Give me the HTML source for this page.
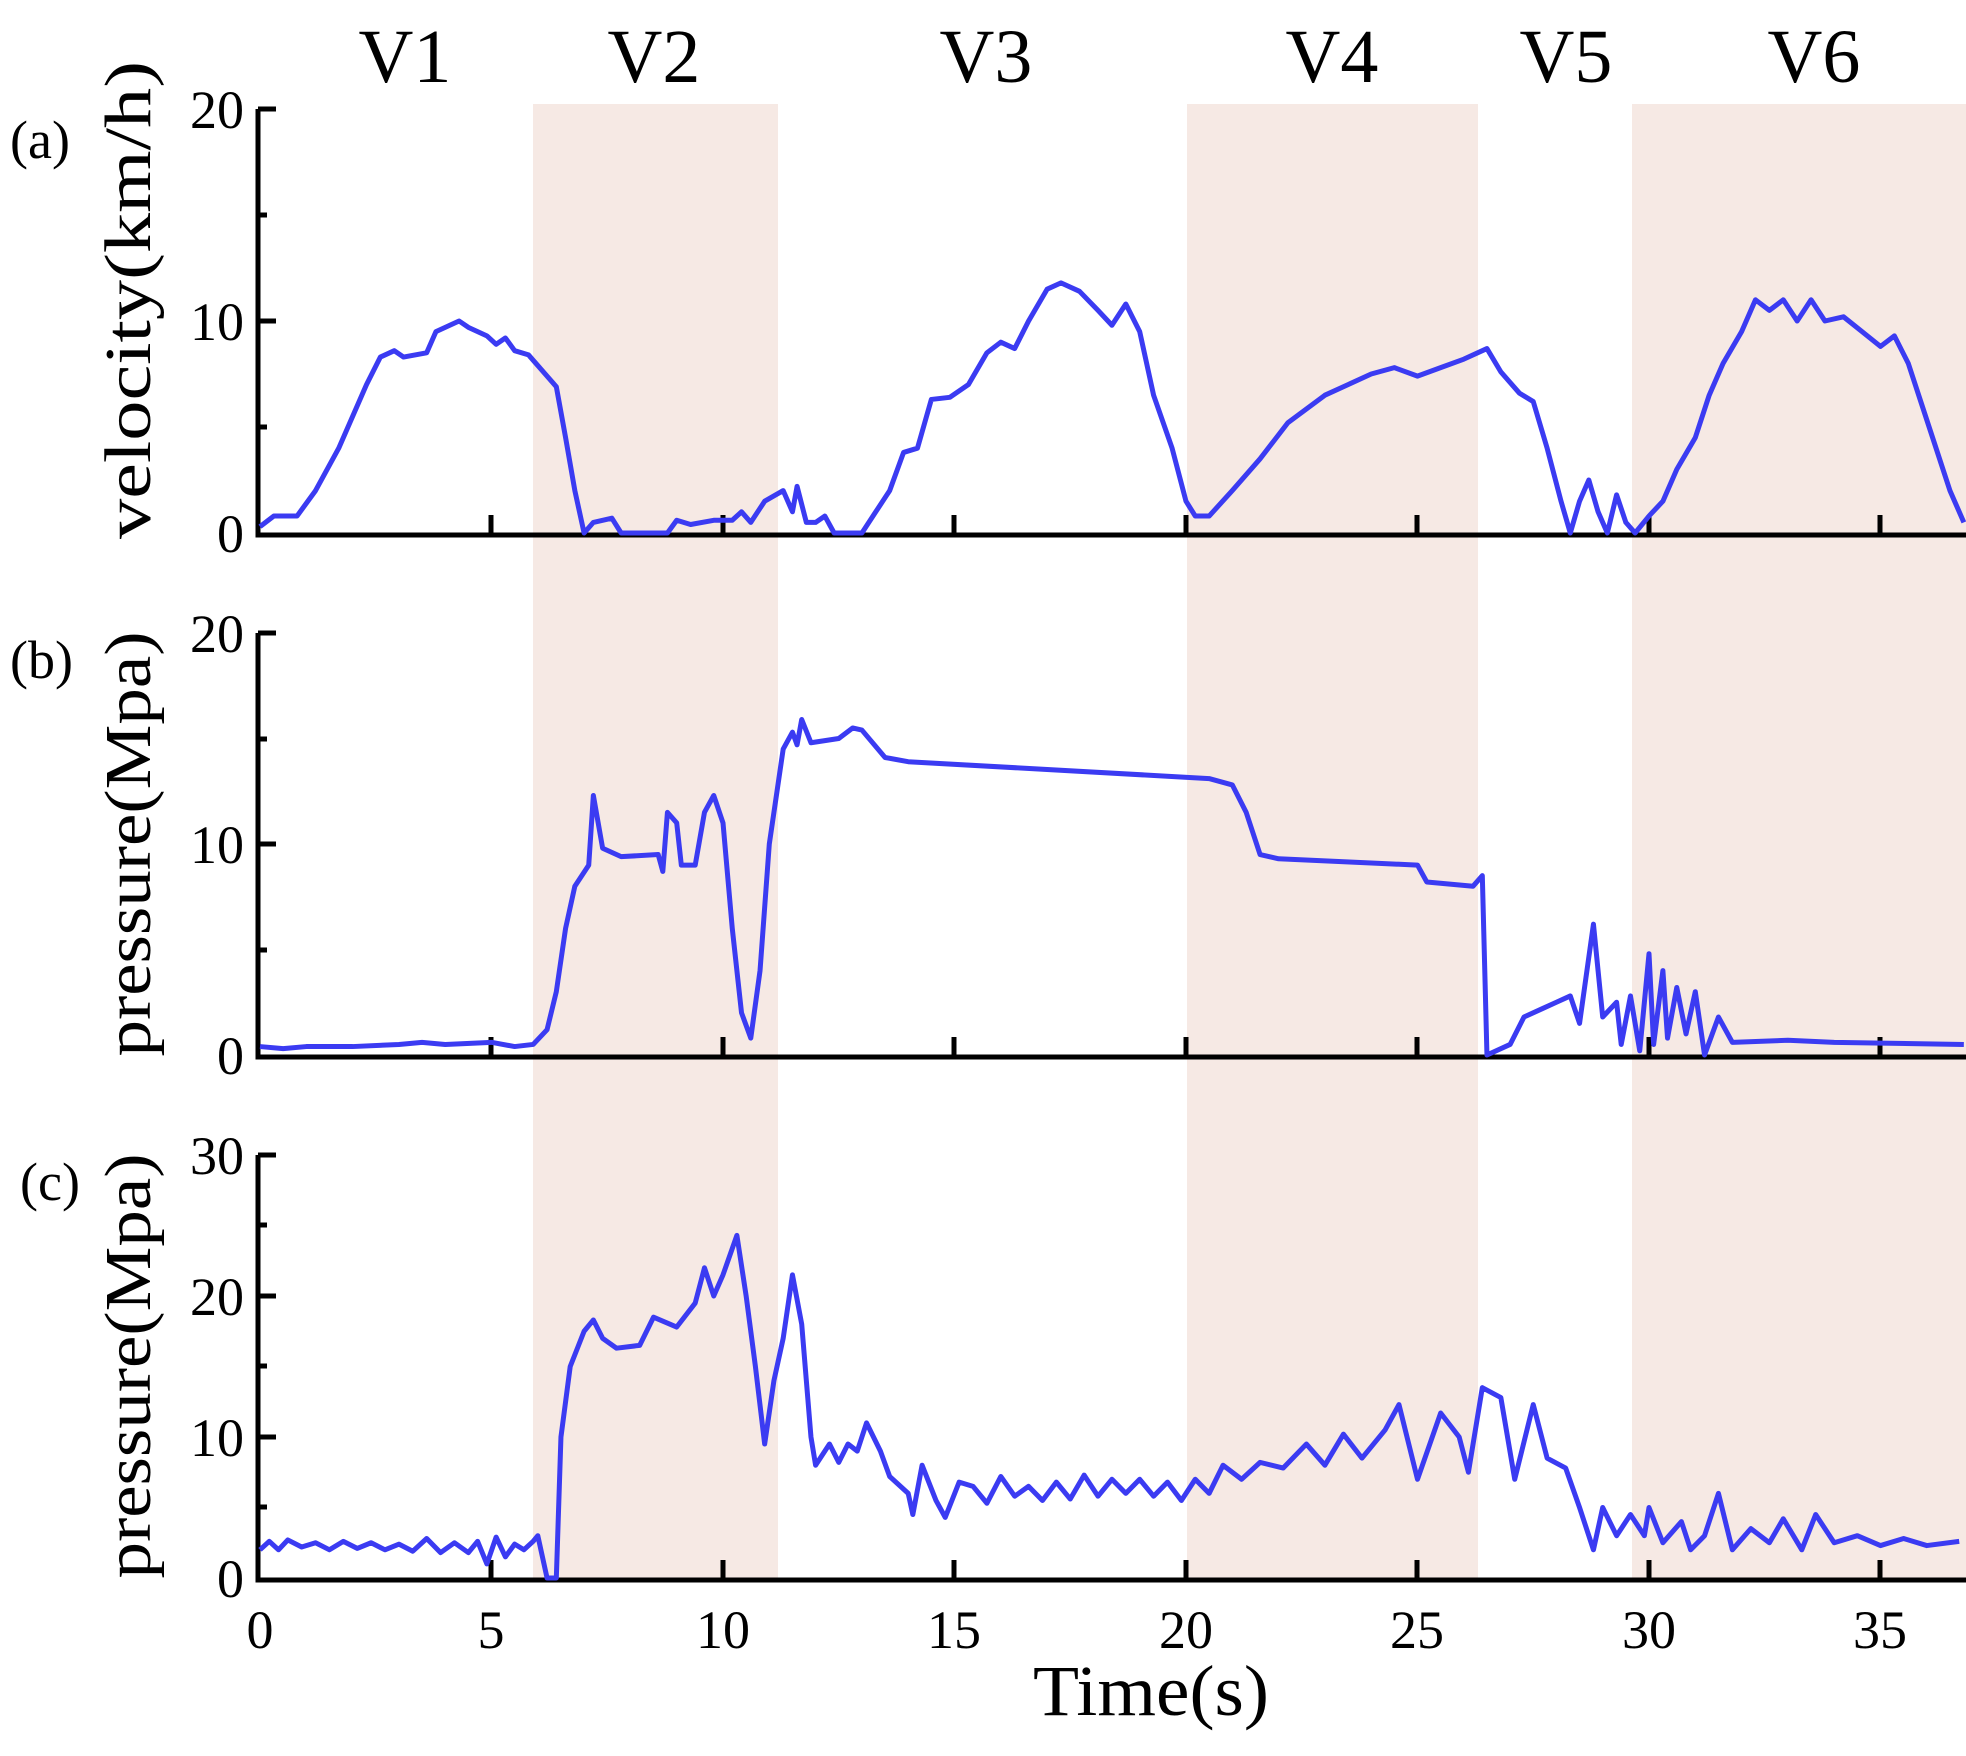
<!DOCTYPE html>
<html><head><meta charset="utf-8"><style>
body{margin:0;background:#fff}
svg{display:block}
text{font-family:"Liberation Serif",serif;fill:#000}
</style></head><body>
<svg width="1966" height="1756" viewBox="0 0 1966 1756" xmlns="http://www.w3.org/2000/svg">
<g fill="#f6e9e4">
<rect x="533" y="104" width="245" height="1478"/>
<rect x="1187" y="104" width="291" height="1478"/>
<rect x="1632" y="104" width="334" height="1478"/>
</g>
<g font-size="76" text-anchor="middle">
<text x="405" y="82">V1</text><text x="654" y="82">V2</text><text x="986" y="82">V3</text>
<text x="1332" y="82">V4</text><text x="1566" y="82">V5</text><text x="1814" y="82">V6</text>
</g>
<g font-size="54"><text x="10" y="158">(a)</text><text x="10" y="678">(b)</text><text x="20" y="1200">(c)</text></g>
<g font-size="66" text-anchor="middle">
<text transform="translate(150,300) rotate(-90)" textLength="478" lengthAdjust="spacingAndGlyphs">velocity(km/h)</text>
<text transform="translate(150,844) rotate(-90)" textLength="425" lengthAdjust="spacingAndGlyphs">pressure(Mpa)</text>
<text transform="translate(150,1366) rotate(-90)" textLength="425" lengthAdjust="spacingAndGlyphs">pressure(Mpa)</text>
<text x="1151" y="1715" font-size="72" textLength="236" lengthAdjust="spacingAndGlyphs">Time(s)</text>
</g>
<g font-size="54" text-anchor="end">
<text x="244" y="128">20</text><text x="244" y="340">10</text><text x="244" y="552">0</text>
<text x="244" y="652">20</text><text x="244" y="863">10</text><text x="244" y="1074">0</text>
<text x="244" y="1174">30</text><text x="244" y="1456">10</text><text x="244" y="1597">0</text>
<text x="244" y="1315">20</text>
</g>
<g font-size="54" text-anchor="middle">
<text x="260" y="1648">0</text><text x="491" y="1648">5</text><text x="723" y="1648">10</text><text x="954" y="1648">15</text><text x="1186" y="1648">20</text><text x="1417" y="1648">25</text><text x="1649" y="1648">30</text><text x="1880" y="1648">35</text>
</g>
<g stroke="#000" stroke-width="5" fill="none">
<path d="M258,109V535H1966M258,633V1057H1966M258,1155V1580H1966"/>
<path d="M258,109h18M258,215h9M258,321h18M258,427h9M258,633h18M258,739h9M258,844h18M258,950h9M258,1155h18M258,1225h9M258,1296h18M258,1366h9M258,1437h18M258,1507h9"/>
<path d="M491,533v-18M723,533v-18M954,533v-18M1186,533v-18M1417,533v-18M1649,533v-18M1880,533v-18
M491,1055v-18M723,1055v-18M954,1055v-18M1186,1055v-18M1417,1055v-18M1649,1055v-18M1880,1055v-18
M491,1578v-18M723,1578v-18M954,1578v-18M1186,1578v-18M1417,1578v-18M1649,1578v-18M1880,1578v-18"/>
</g>
<g fill="none" stroke="#3b3bf2" stroke-width="5" stroke-linejoin="round">
<g transform="translate(260,533) scale(46.3,-21.2)">
<polyline vector-effect="non-scaling-stroke" points="0,0.3 0.3,0.8 0.8,0.8 1.2,2 1.7,4 2.3,7 2.6,8.3 2.9,8.6 3.1,8.3 3.6,8.5 3.8,9.5 4.1,9.8 4.3,10 4.5,9.7 4.9,9.3 5.1,8.9 5.3,9.2 5.5,8.6 5.8,8.4 6.2,7.4 6.4,6.9 6.6,4.5 6.8,2 7,0 7.2,0.5 7.6,0.7 7.8,0 8.8,0 9,0.6 9.3,0.4 9.8,0.6 10.2,0.6 10.4,1 10.6,0.5 10.9,1.5 11.3,2 11.5,1 11.6,2.2 11.8,0.5 12,0.5 12.2,0.8 12.4,0 13,0 13.3,1 13.6,2 13.9,3.8 14.2,4 14.5,6.3 14.9,6.4 15.3,7 15.7,8.5 16,9 16.3,8.7 16.6,10 17,11.5 17.3,11.8 17.7,11.4 18.1,10.5 18.4,9.8 18.7,10.8 19,9.5 19.3,6.5 19.7,4 20,1.5 20.2,0.8 20.5,0.8 21,2 21.6,3.5 22.2,5.2 23,6.5 23.5,7 24,7.5 24.5,7.8 25,7.4 25.5,7.8 26,8.2 26.5,8.7 26.8,7.6 27.2,6.6 27.5,6.2 27.8,4 28.1,1.5 28.3,0 28.5,1.5 28.7,2.5 28.9,1 29.1,0 29.3,1.8 29.5,0.5 29.7,0 30,0.8 30.3,1.5 30.6,3 31,4.5 31.3,6.5 31.6,8 32,9.5 32.3,11 32.6,10.5 32.9,11 33.2,10 33.5,11 33.8,10 34.2,10.2 34.6,9.5 35,8.8 35.3,9.3 35.6,8 35.9,6 36.2,4 36.5,2 36.8,0.5"/>
</g>
<g transform="translate(260,1055) scale(46.3,-21.1)">
<polyline vector-effect="non-scaling-stroke" points="0,0.4 0.5,0.3 1,0.4 2,0.4 3,0.5 3.5,0.6 4,0.5 5,0.6 5.5,0.4 5.9,0.5 6.2,1.2 6.4,3 6.6,6 6.8,8 7.1,9 7.2,12.3 7.4,9.8 7.8,9.4 8.6,9.5 8.7,8.7 8.8,11.5 9,11 9.1,9 9.4,9 9.6,11.5 9.8,12.3 10,11 10.2,6 10.4,2 10.6,0.8 10.8,4 11,10 11.3,14.5 11.5,15.3 11.6,14.7 11.7,15.9 11.9,14.8 12.5,15 12.8,15.5 13,15.4 13.5,14.1 14,13.9 20.5,13.1 21,12.8 21.3,11.5 21.6,9.5 22,9.3 23,9.2 24,9.1 25,9 25.2,8.2 26.2,8 26.4,8.5 26.5,0 27,0.5 27.3,1.8 27.7,2.2 28,2.5 28.3,2.8 28.5,1.5 28.8,6.2 29,1.8 29.3,2.5 29.4,0.5 29.6,2.8 29.8,0.2 30,4.8 30.1,0.5 30.3,4 30.4,0.8 30.6,3.2 30.8,1 31,3 31.2,0 31.5,1.8 31.8,0.6 33,0.7 34,0.6 36.8,0.5"/>
</g>
<g transform="translate(260,1578) scale(46.3,-14.1)">
<polyline vector-effect="non-scaling-stroke" points="0,2 0.2,2.6 0.4,2 0.6,2.7 0.9,2.2 1.2,2.5 1.5,2 1.8,2.6 2.1,2.1 2.4,2.5 2.7,2 3,2.4 3.3,1.9 3.6,2.8 3.9,1.8 4.2,2.5 4.5,1.8 4.7,2.6 4.9,1 5.1,2.9 5.3,1.5 5.5,2.4 5.7,2 5.9,2.6 6,3 6.2,0 6.4,0 6.5,10 6.7,15 7,17.5 7.2,18.3 7.4,17 7.7,16.3 8.2,16.5 8.5,18.5 9,17.8 9.4,19.5 9.6,22 9.8,20 10,21.5 10.3,24.3 10.5,20 10.7,15 10.9,9.5 11.1,14 11.3,17 11.5,21.5 11.7,18 11.9,10 12,8 12.3,9.5 12.5,8.2 12.7,9.5 12.9,9 13.1,11 13.4,9 13.6,7.2 14,6 14.1,4.5 14.3,8 14.6,5.5 14.8,4.3 15.1,6.8 15.4,6.5 15.7,5.3 16,7.2 16.3,5.8 16.6,6.5 16.9,5.5 17.2,6.8 17.5,5.6 17.8,7.3 18.1,5.8 18.4,7 18.7,6 19,7 19.3,5.8 19.6,6.8 19.9,5.5 20.2,7 20.5,6 20.8,8 21.2,7 21.6,8.2 22.1,7.8 22.6,9.5 23,8 23.4,10.2 23.8,8.5 24.3,10.5 24.6,12.3 25,7 25.5,11.7 25.9,10 26.1,7.5 26.4,13.5 26.8,12.8 27.1,7 27.5,12.3 27.8,8.5 28.2,7.8 28.5,5 28.8,2 29,5 29.3,3 29.6,4.5 29.9,3 30,5 30.3,2.5 30.7,4 30.9,2 31.2,3 31.5,6 31.8,2 32.2,3.5 32.6,2.5 32.9,4.2 33.3,2 33.6,4.5 34,2.5 34.5,3 35,2.3 35.5,2.8 36,2.3 36.7,2.6"/>
</g>
</g>
</svg>
</body></html>
